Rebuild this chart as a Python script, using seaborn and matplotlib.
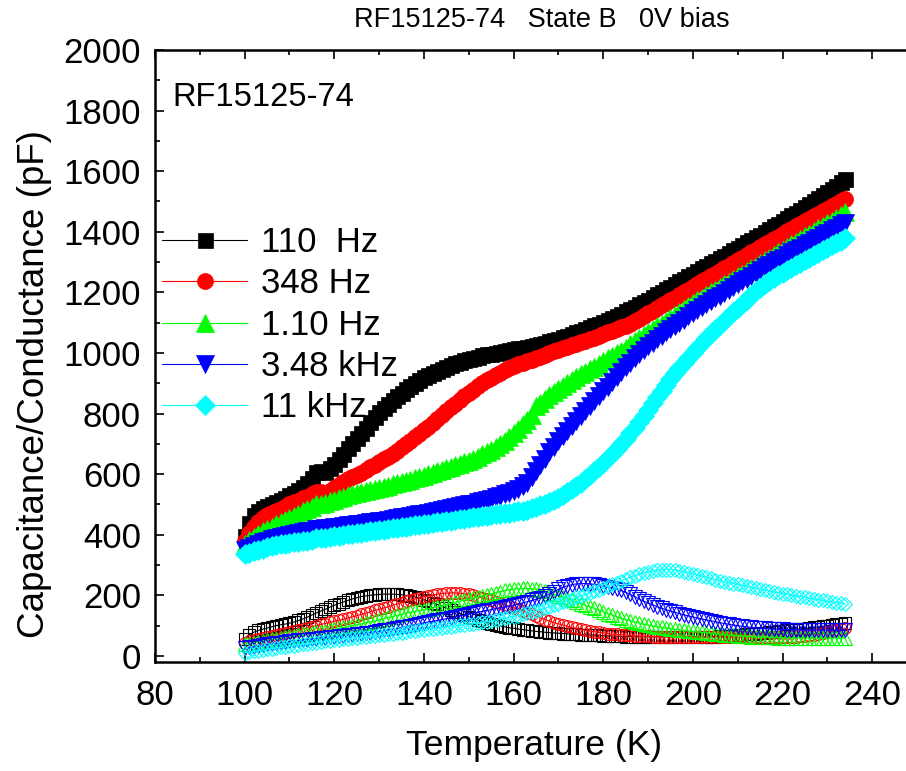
import numpy as np
import pandas as pd
import matplotlib
matplotlib.use("Agg")
import matplotlib.pyplot as plt
import seaborn as sns

# ---------------- data ----------------
temperature = list(range(100, 235))  # K, 1 K steps

cap_110Hz = [
    395, 440, 465, 478, 488, 496, 503, 509, 515, 522,
    530, 539, 548, 558, 570, 588, 608, 611, 606, 619,
    635, 651, 668, 686, 703, 720, 737, 754, 771, 788,
    805, 819, 832, 845, 858, 869, 880, 891, 901, 911,
    920, 928, 935, 942, 948, 954, 960, 966, 971, 976,
    980, 984, 988, 992, 995, 998, 1001, 1004, 1007, 1010,
    1012, 1015, 1018, 1021, 1024, 1027, 1030, 1034, 1038, 1042,
    1047, 1052, 1057, 1062, 1068, 1073, 1079, 1085, 1091, 1097,
    1103, 1109, 1116, 1123, 1130, 1137, 1145, 1152, 1160, 1168,
    1176, 1184, 1193, 1201, 1210, 1218, 1227, 1236, 1245, 1253,
    1262, 1270, 1279, 1287, 1296, 1304, 1313, 1321, 1330, 1339,
    1348, 1356, 1365, 1374, 1383, 1391, 1400, 1409, 1418, 1426,
    1435, 1444, 1454, 1463, 1473, 1482, 1492, 1501, 1511, 1520,
    1530, 1541, 1552, 1563, 1575]
cap_348Hz = [
    378, 405, 425, 442, 455, 464, 472, 479, 486, 493,
    500, 507, 513, 520, 526, 533, 540, 541, 535, 545,
    555, 565, 575, 583, 590, 598, 605, 613, 622, 631,
    640, 649, 658, 668, 678, 689, 700, 711, 722, 733,
    745, 757, 770, 783, 796, 808, 821, 833, 845, 857,
    868, 879, 890, 900, 910, 919, 927, 935, 943, 950,
    956, 962, 968, 973, 978, 983, 988, 994, 999, 1005,
    1010, 1015, 1020, 1025, 1030, 1035, 1040, 1045, 1050, 1056,
    1062, 1068, 1074, 1080, 1085, 1090, 1096, 1104, 1113, 1122,
    1131, 1139, 1148, 1157, 1166, 1174, 1183, 1191, 1200, 1209,
    1218, 1227, 1236, 1244, 1253, 1262, 1271, 1279, 1288, 1297,
    1306, 1315, 1324, 1332, 1341, 1350, 1359, 1367, 1376, 1384,
    1393, 1401, 1410, 1418, 1426, 1434, 1443, 1451, 1459, 1467,
    1476, 1484, 1492, 1500, 1508]
cap_1k10Hz = [
    370, 382, 392, 402, 412, 420, 427, 434, 441, 448,
    455, 463, 470, 478, 485, 492, 500, 503, 505, 510,
    515, 521, 526, 531, 535, 538, 541, 545, 548, 552,
    555, 558, 562, 566, 570, 574, 578, 582, 586, 590,
    595, 600, 604, 609, 614, 619, 624, 629, 634, 639,
    645, 651, 658, 665, 672, 681, 690, 700, 710, 722,
    735, 750, 765, 780, 795, 825, 835, 848, 860, 871,
    882, 892, 902, 911, 920, 929, 938, 947, 955, 965,
    975, 983, 991, 999, 1008, 1018, 1028, 1038, 1048, 1058,
    1068, 1078, 1088, 1097, 1107, 1116, 1126, 1136, 1146, 1155,
    1165, 1174, 1183, 1191, 1200, 1209, 1218, 1226, 1235, 1244,
    1253, 1262, 1271, 1279, 1288, 1297, 1306, 1314, 1323, 1332,
    1341, 1350, 1359, 1367, 1376, 1385, 1394, 1402, 1411, 1420,
    1429, 1437, 1446, 1455, 1464]
cap_3k48Hz = [
    350, 357, 363, 369, 375, 380, 385, 389, 393, 397,
    400, 403, 406, 409, 411, 413, 418, 420, 421, 423,
    425, 427, 429, 431, 433, 435, 437, 439, 441, 443,
    445, 447, 450, 452, 455, 457, 460, 462, 465, 467,
    470, 473, 476, 479, 482, 485, 488, 491, 494, 497,
    500, 503, 507, 511, 515, 519, 524, 529, 534, 539,
    545, 552, 560, 570, 590, 610, 630, 651, 672, 690,
    708, 725, 741, 758, 774, 791, 807, 824, 840, 857,
    873, 889, 905, 921, 937, 953, 968, 982, 996, 1009,
    1022, 1034, 1046, 1057, 1068, 1079, 1089, 1100, 1110, 1121,
    1132, 1142, 1151, 1161, 1170, 1180, 1189, 1199, 1208, 1217,
    1226, 1236, 1245, 1255, 1264, 1274, 1283, 1291, 1299, 1307,
    1315, 1324, 1332, 1340, 1348, 1356, 1364, 1373, 1381, 1389,
    1397, 1405, 1413, 1421, 1429]
cap_11kHz = [
    335, 340, 345, 350, 354, 358, 362, 365, 368, 371,
    373, 375, 377, 379, 381, 383, 388, 389, 390, 393,
    395, 397, 399, 401, 403, 405, 407, 409, 411, 413,
    415, 417, 419, 421, 423, 425, 427, 429, 431, 433,
    435, 437, 439, 441, 443, 445, 447, 449, 451, 453,
    455, 457, 459, 461, 463, 465, 467, 469, 471, 473,
    475, 477, 480, 483, 488, 492, 497, 502, 508, 515,
    522, 531, 540, 550, 560, 571, 583, 596, 610, 624,
    638, 653, 668, 684, 700, 717, 735, 754, 773, 793,
    813, 834, 855, 875, 895, 914, 933, 951, 968, 984,
    1000, 1016, 1032, 1048, 1063, 1078, 1092, 1107, 1122, 1136,
    1150, 1163, 1176, 1190, 1203, 1215, 1226, 1236, 1246, 1256,
    1265, 1274, 1282, 1290, 1298, 1306, 1314, 1322, 1330, 1339,
    1347, 1355, 1362, 1370, 1378]

cond_110Hz = [
    55, 70, 78, 84, 88, 92, 96, 100, 103, 105,
    108, 112, 117, 122, 128, 135, 142, 148, 154, 161,
    167, 173, 178, 183, 188, 192, 196, 198, 200, 202,
    203, 204, 204, 204, 203, 202, 200, 198, 195, 191,
    186, 181, 176, 170, 164, 158, 152, 146, 140, 134,
    129, 124, 119, 114, 110, 106, 102, 99, 96, 93,
    91, 89, 87, 85, 83, 81, 80, 78, 77, 76,
    75, 74, 73, 72, 71, 70, 70, 69, 69, 68,
    67, 67, 66, 65, 65, 64, 64, 63, 63, 63,
    63, 63, 63, 63, 63, 63, 63, 63, 63, 63,
    63, 63, 63, 63, 64, 64, 65, 65, 66, 67,
    68, 69, 71, 72, 74, 75, 77, 78, 80, 81,
    83, 84, 86, 87, 89, 90, 92, 94, 96, 98,
    100, 102, 104, 106, 108]
cond_348Hz = [
    44, 49, 53, 57, 60, 64, 67, 70, 73, 77,
    80, 83, 86, 90, 93, 97, 100, 104, 107, 111,
    114, 118, 121, 125, 129, 133, 137, 141, 145, 150,
    154, 158, 162, 167, 171, 176, 180, 184, 188, 192,
    195, 198, 201, 204, 206, 207, 208, 208, 207, 205,
    203, 200, 196, 192, 188, 184, 179, 174, 169, 164,
    159, 154, 148, 143, 137, 132, 126, 120, 115, 110,
    106, 102, 98, 94, 91, 88, 85, 82, 80, 78,
    76, 74, 72, 71, 70, 69, 68, 67, 66, 65,
    65, 64, 64, 63, 63, 63, 63, 62, 62, 62,
    62, 62, 62, 62, 62, 62, 62, 62, 62, 62,
    62, 62, 62, 62, 62, 62, 62, 62, 62, 62,
    62, 62, 63, 64, 65, 66, 68, 70, 72, 75,
    78, 81, 85, 88, 92]
cond_1k10Hz = [
    38, 41, 44, 47, 50, 52, 55, 57, 60, 62,
    65, 67, 69, 71, 74, 76, 78, 80, 83, 85,
    88, 91, 94, 97, 100, 103, 106, 109, 112, 115,
    119, 123, 127, 130, 134, 137, 141, 144, 147, 150,
    153, 156, 159, 162, 165, 169, 173, 177, 181, 184,
    188, 191, 195, 198, 202, 205, 209, 212, 216, 219,
    221, 222, 223, 223, 222, 220, 217, 213, 208, 203,
    198, 194, 189, 184, 178, 173, 167, 162, 157, 151,
    146, 140, 135, 130, 125, 120, 116, 112, 109, 105,
    102, 99, 97, 94, 92, 90, 88, 86, 84, 82,
    81, 79, 78, 76, 75, 73, 72, 70, 69, 68,
    67, 66, 65, 64, 63, 62, 62, 61, 61, 60,
    60, 60, 60, 60, 60, 60, 59, 59, 59, 59,
    59, 59, 59, 59, 59]
cond_3k48Hz = [
    25, 28, 30, 33, 35, 38, 40, 42, 44, 46,
    48, 50, 51, 53, 54, 56, 57, 59, 60, 62,
    63, 65, 66, 68, 69, 71, 73, 75, 77, 79,
    81, 84, 86, 89, 91, 94, 97, 100, 103, 106,
    109, 112, 114, 117, 120, 123, 126, 129, 132, 135,
    138, 141, 144, 147, 150, 153, 156, 159, 162, 165,
    168, 171, 175, 179, 183, 187, 192, 198, 205, 212,
    220, 226, 232, 235, 238, 239, 239, 238, 236, 234,
    231, 228, 225, 221, 216, 210, 203, 196, 188, 181,
    175, 169, 163, 158, 153, 148, 144, 140, 136, 132,
    129, 125, 122, 119, 116, 113, 110, 107, 105, 102,
    100, 98, 96, 94, 93, 92, 91, 90, 89, 88,
    88, 87, 87, 87, 87, 86, 86, 86, 86, 86,
    86, 86, 86, 86, 86]
cond_11kHz = [
    10, 12, 15, 17, 20, 22, 24, 26, 28, 30,
    32, 34, 36, 38, 40, 42, 44, 46, 48, 50,
    52, 54, 56, 57, 59, 60, 62, 63, 65, 66,
    68, 69, 71, 73, 75, 77, 79, 81, 83, 85,
    87, 88, 90, 91, 93, 95, 97, 99, 101, 103,
    105, 107, 109, 111, 113, 115, 118, 121, 124, 127,
    130, 133, 137, 141, 145, 149, 153, 157, 162, 167,
    172, 177, 182, 187, 193, 198, 203, 208, 214, 219,
    225, 230, 236, 242, 248, 254, 260, 265, 270, 274,
    278, 281, 283, 284, 285, 284, 283, 281, 278, 275,
    271, 268, 264, 260, 256, 252, 249, 245, 242, 239,
    236, 233, 230, 227, 224, 221, 218, 215, 212, 209,
    206, 203, 201, 198, 196, 193, 191, 188, 186, 183,
    181, 178, 176, 174, 172]

labels = ["110  Hz", "348 Hz", "1.10 Hz", "3.48 kHz", "11 kHz"]
cap_series = [cap_110Hz, cap_348Hz, cap_1k10Hz, cap_3k48Hz, cap_11kHz]
cond_series = [cond_110Hz, cond_348Hz, cond_1k10Hz, cond_3k48Hz, cond_11kHz]

colors = ["#000000", "#FF0000", "#00FF00", "#0000FF", "#00FFFF"]
markers = ["s", "o", "^", "v", "D"]
msize_filled = [10.8, 11.5, 13.0, 13.0, 10.5]
msize_open = [8.0, 8.5, 9.5, 9.5, 7.0]

# ---------------- style ----------------
sns.set_style("ticks")
plt.rcParams["font.family"] = ["Liberation Sans", "DejaVu Sans"]
plt.rcParams["xtick.direction"] = "in"
plt.rcParams["ytick.direction"] = "in"
for key in ["text.color", "axes.labelcolor", "xtick.color", "ytick.color", "axes.edgecolor"]:
    plt.rcParams[key] = "black"

fig = plt.figure(figsize=(9.06, 7.71), dpi=100)
ax = fig.add_axes([155 / 906, 109 / 771, 762 / 906, 612 / 771])

for vals, col, mk, ms in zip(cond_series, colors, markers, msize_open):
    df = pd.DataFrame({"T": temperature, "v": vals})
    sns.lineplot(data=df, x="T", y="v", ax=ax, color=col, marker=mk, markersize=ms,
                 markerfacecolor="none", markeredgecolor=col, markeredgewidth=0.8,
                 linewidth=0.8, errorbar=None, legend=False)

cap_lines = []
for vals, col, mk, ms in zip(cap_series, colors, markers, msize_filled):
    df = pd.DataFrame({"T": temperature, "v": vals})
    sns.lineplot(data=df, x="T", y="v", ax=ax, color=col, marker=mk, markersize=ms,
                 markerfacecolor=col, markeredgecolor=col, markeredgewidth=0.5,
                 linewidth=0.8, errorbar=None, legend=False)
    cap_lines.append(ax.lines[-1])

ax.set_xlim(80, 250)
ax.set_ylim(-20, 2000)
ax.set_xticks(np.arange(80, 260, 20))
ax.set_xticks(np.arange(80, 251, 10), minor=True)
ax.set_yticks(np.arange(0, 2001, 200))
ax.set_yticks(np.arange(0, 2001, 100), minor=True)
ax.tick_params(which="both", direction="in", top=True, right=True, width=1.2, colors="black")
ax.tick_params(which="major", length=6.5, labelsize=25)
ax.tick_params(which="minor", length=3.5)
ax.tick_params(axis="x", which="major", pad=12)
ax.tick_params(axis="y", which="major", pad=10)
for sp in ax.spines.values():
    sp.set_linewidth(1.8)
    sp.set_color("black")
ax.set_xlabel("")
ax.set_ylabel("")

fig.text(534 / 906, 1 - 745 / 771, "Temperature (K)", ha="center", va="center",
         fontsize=25.5, color="black")
fig.text(35 / 906, 1 - 384 / 771, "Capacitance/Conductance (pF)", ha="center", va="center",
         rotation=90, fontsize=26.5, color="black")
fig.text(542 / 906, 1 - 20 / 771, "RF15125-74   State B   0V bias", ha="center", va="center",
         fontsize=19.5, color="black")
ax.text(17 / 762, (662 - 98) / 612, "RF15125-74", transform=ax.transAxes,
        ha="left", va="center", fontsize=23.5, color="black")

leg = ax.legend(handles=cap_lines, labels=labels, loc="upper left",
                bbox_to_anchor=(7 / 762, (662 - 226) / 612), frameon=False, fontsize=25,
                handlelength=2.45, handletextpad=0.4, labelspacing=0.24, borderpad=0,
                borderaxespad=0, numpoints=1)
for t in leg.get_texts():
    t.set_color("black")

fig.savefig("out.png", dpi=100)
